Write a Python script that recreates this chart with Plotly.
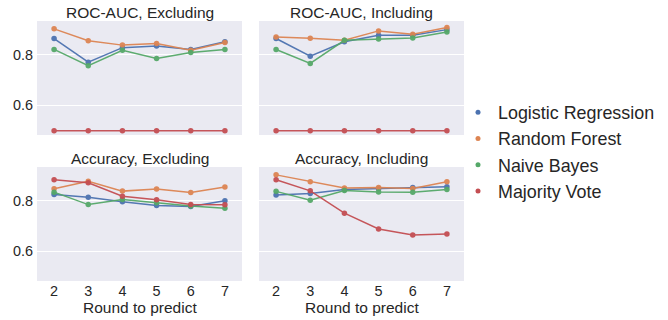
import plotly.graph_objects as go

rounds = [2, 3, 4, 5, 6, 7]
models = ["Logistic Regression", "Random Forest", "Naive Bayes", "Majority Vote"]
colors = ["#4C72B0", "#DD8452", "#55A868", "#C44E52"]

roc_excl = {
    "Logistic Regression": [0.863, 0.770, 0.827, 0.834, 0.820, 0.850],
    "Random Forest": [0.901, 0.854, 0.837, 0.843, 0.817, 0.847],
    "Naive Bayes": [0.820, 0.756, 0.817, 0.784, 0.808, 0.820],
    "Majority Vote": [0.5, 0.5, 0.5, 0.5, 0.5, 0.5],
}
roc_incl = {
    "Logistic Regression": [0.863, 0.793, 0.850, 0.876, 0.876, 0.898],
    "Random Forest": [0.869, 0.864, 0.856, 0.893, 0.880, 0.906],
    "Naive Bayes": [0.820, 0.765, 0.856, 0.861, 0.865, 0.889],
    "Majority Vote": [0.5, 0.5, 0.5, 0.5, 0.5, 0.5],
}
acc_excl = {
    "Logistic Regression": [0.824, 0.813, 0.795, 0.780, 0.776, 0.799],
    "Random Forest": [0.846, 0.876, 0.837, 0.845, 0.832, 0.853],
    "Naive Bayes": [0.833, 0.784, 0.804, 0.791, 0.778, 0.770],
    "Majority Vote": [0.882, 0.870, 0.817, 0.803, 0.784, 0.783],
}
acc_incl = {
    "Logistic Regression": [0.822, 0.828, 0.843, 0.846, 0.851, 0.854],
    "Random Forest": [0.901, 0.874, 0.849, 0.851, 0.847, 0.874],
    "Naive Bayes": [0.836, 0.801, 0.839, 0.834, 0.833, 0.843],
    "Majority Vote": [0.882, 0.838, 0.750, 0.688, 0.664, 0.668],
}

panels = [
    ("ROC-AUC, Excluding", roc_excl),
    ("ROC-AUC, Including", roc_incl),
    ("Accuracy, Excluding", acc_excl),
    ("Accuracy, Including", acc_incl),
]

W, H = 668, 320
xdoms = [(37, 242), (259, 464)]
ydoms = [(21, 135), (167, 281)]
FONT = "Liberation Sans, Arial, sans-serif"
TXT = "#262626"

fig = go.Figure()
layout = {}
annotations = []
for i, (title, data) in enumerate(panels):
    r, c = divmod(i, 2)
    ax = "" if i == 0 else str(i + 1)
    for m, col in zip(models, colors):
        fig.add_trace(go.Scatter(
            x=rounds, y=data[m], mode="lines+markers",
            line=dict(color=col, width=1.5), marker=dict(color=col, size=5.5),
            opacity=0.95, showlegend=False, xaxis="x" + ax, yaxis="y" + ax,
        ))
    x0, x1 = xdoms[c]
    y0, y1 = ydoms[r]
    layout["xaxis" + ax] = dict(
        domain=[x0 / W, x1 / W], anchor="y" + ax, range=[1.5, 7.5],
        tickvals=rounds, showticklabels=(r == 1), showgrid=False, zeroline=False,
        tickfont=dict(size=14.4, color=TXT, family=FONT), ticks="",
        automargin=False,
    )
    layout["yaxis" + ax] = dict(
        domain=[1 - y1 / H, 1 - y0 / H], anchor="x" + ax, range=[0.483, 0.932],
        tickvals=[0.6, 0.8], ticktext=["0.6", "0.8"], showticklabels=(c == 0),
        showgrid=True, gridcolor="white", gridwidth=1.2, zeroline=False,
        tickfont=dict(size=14.4, color=TXT, family=FONT), ticks="",
        ticklabelstandoff=3, automargin=False,
    )
    annotations.append(dict(
        text=title, x=(x0 + x1) / 2 / W, y=1 - y0 / H, xref="paper", yref="paper",
        xanchor="center", yanchor="bottom", showarrow=False, yshift=-2,
        font=dict(size=15.5, color=TXT, family=FONT),
    ))
    if r == 1:
        annotations.append(dict(
            text="Round to predict", x=(x0 + x1) / 2 / W, y=1 - 307 / H,
            xref="paper", yref="paper", xanchor="center", yanchor="middle",
            showarrow=False, font=dict(size=15.5, color=TXT, family=FONT),
        ))

for m, col in zip(models, colors):
    fig.add_trace(go.Scatter(
        x=[None], y=[None], mode="markers", name=m,
        marker=dict(color=col, size=5), showlegend=True,
    ))

fig.update_layout(
    width=W, height=H,
    margin=dict(l=0, r=0, t=0, b=0, autoexpand=False),
    paper_bgcolor="white", plot_bgcolor="#EAEAF2",
    annotations=annotations,
    legend=dict(x=458 / W, y=1 - 152 / H, xanchor="left", yanchor="middle",
                font=dict(size=17.9, color=TXT, family=FONT),
                bgcolor="rgba(0,0,0,0)"),
    **layout,
)
fig.write_html("out.html", config={"displayModeBar": False},
               post_script="document.body.style.margin='0';")
